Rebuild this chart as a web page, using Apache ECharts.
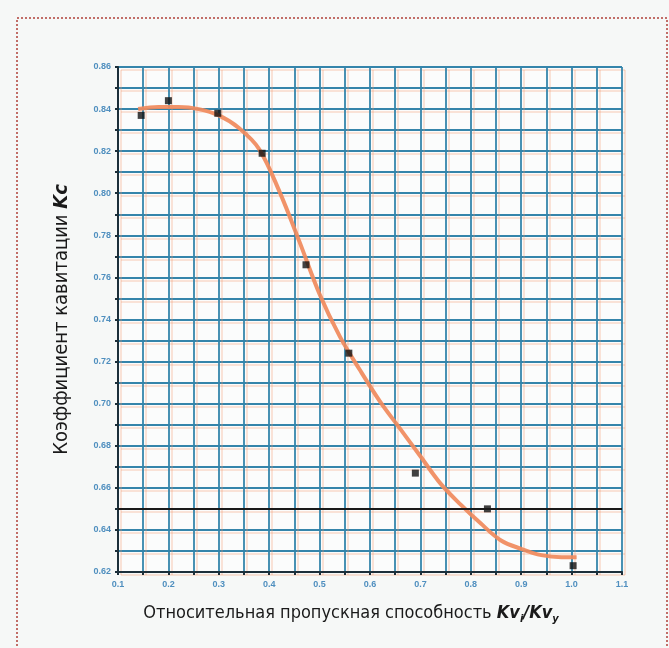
<!DOCTYPE html>
<html><head><meta charset="utf-8">
<script src="https://cdn.jsdelivr.net/npm/echarts@6/dist/echarts.min.js"></script>
<style>html,body{margin:0;padding:0;background:#f6f8f7}#c{width:669px;height:648px}</style>
</head><body><div id="c"></div>
<script>
// Measured points (relative capacity, cavitation coefficient)
const pointX = [0.146, 0.200, 0.298, 0.386, 0.473, 0.558, 0.690, 0.833, 1.003];
const pointY = [0.837, 0.844, 0.838, 0.819, 0.766, 0.724, 0.667, 0.650, 0.623];
// Fitted curve
const curveX = [0.14, 0.18, 0.22, 0.26, 0.30, 0.34, 0.38, 0.42, 0.46, 0.50, 0.54, 0.58, 0.62, 0.66, 0.70, 0.74, 0.78, 0.82, 0.86, 0.90, 0.94, 0.98, 1.01];
const curveY = [0.840, 0.841, 0.841, 0.840, 0.837, 0.831, 0.821, 0.801, 0.777, 0.752, 0.732, 0.716, 0.701, 0.688, 0.675, 0.662, 0.652, 0.643, 0.635, 0.631, 0.628, 0.627, 0.627];
const refLineY = [0.65];
const xTitle = 'Относительная пропускная способность ';
const yTitle = 'Коэффициент кавитации ';

const chart = echarts.init(document.getElementById('c'), null, {renderer: 'canvas'});
const FONT = '"Liberation Sans Narrow", "DejaVu Sans Condensed", "Liberation Sans", sans-serif';
const G = {left: 118, right: 47, top: 67, bottom: 76};
const G2 = {left: 121, right: 44, top: 70, bottom: 73};
const xFmt = v => (Math.round(v * 100) % 10 === 0 ? v.toFixed(1) : '');
const yFmt = v => (Math.round(v * 100) % 2 === 0 ? v.toFixed(2) : '');

chart.setOption({
  backgroundColor: '#f6f8f7',
  animation: false,
  graphic: [{
    type: 'rect', shape: {x: 17, y: 18, width: 650, height: 660},
    style: {fill: 'none', stroke: '#b0403a', lineWidth: 1.5, lineDash: [2, 2]}, z: -1
  }, {
    type: 'rect', shape: {x: 118, y: 67, width: 504, height: 505},
    style: {fill: '#fbfcfc'}, z: -1
  }],
  grid: [Object.assign({}, G2), Object.assign({}, G)],
  xAxis: [{
    gridIndex: 0, type: 'value', min: 0.1, max: 1.1, interval: 0.05,
    axisLine: {show: false}, axisTick: {show: false}, axisLabel: {show: false},
    splitLine: {show: true, lineStyle: {color: 'rgba(240,150,110,0.35)', width: 1.5}}
  }, {
    gridIndex: 1, type: 'value', min: 0.1, max: 1.1, interval: 0.05,
    nameLocation: 'middle', nameGap: 30,
    name: '{a|' + xTitle + '}{b|Kv}{s|i}{b|/Kv}{s|y}',
    nameTextStyle: {
      padding: [0, 38, 0, 0],
      rich: {
        a: {fontFamily: FONT, fontSize: 18, color: '#1a1a1a'},
        b: {fontFamily: FONT, fontSize: 18, color: '#1a1a1a', fontWeight: 'bold', fontStyle: 'italic'},
        s: {fontFamily: FONT, fontSize: 11, color: '#1a1a1a', fontWeight: 'bold', fontStyle: 'italic', padding: [12, 0, 0, 0]}
      }
    },
    axisLine: {show: true, onZero: false, lineStyle: {color: '#1c2f3a', width: 2}},
    axisTick: {show: true, length: 3, lineStyle: {color: '#1c2f3a', width: 2}},
    axisLabel: {formatter: xFmt, color: '#4f8fbf', fontSize: 9, fontWeight: 'bold', margin: 8, fontFamily: 'Liberation Sans'},
    splitLine: {show: true, lineStyle: {color: '#3585ab', width: 1.8}}
  }],
  yAxis: [{
    gridIndex: 0, type: 'value', min: 0.62, max: 0.86, interval: 0.01,
    axisLine: {show: false}, axisTick: {show: false}, axisLabel: {show: false},
    splitLine: {show: true, lineStyle: {color: 'rgba(240,150,110,0.35)', width: 1.5}}
  }, {
    gridIndex: 1, type: 'value', min: 0.62, max: 0.86, interval: 0.01,
    nameLocation: 'middle', nameGap: 46,
    name: '{a|' + yTitle + '}{b|Kc}',
    nameTextStyle: {
      rich: {
        a: {fontFamily: FONT, fontSize: 20, color: '#1a1a1a'},
        b: {fontFamily: FONT, fontSize: 20, color: '#1a1a1a', fontWeight: 'bold', fontStyle: 'italic'}
      }
    },
    axisLine: {show: true, onZero: false, lineStyle: {color: '#1c2f3a', width: 2}},
    axisTick: {show: true, length: 3, lineStyle: {color: '#1c2f3a', width: 2}},
    axisLabel: {formatter: yFmt, color: '#4f8fbf', fontSize: 9, fontWeight: 'bold', margin: 7, fontFamily: 'Liberation Sans'},
    splitLine: {show: true, lineStyle: {color: '#3585ab', width: 1.8}}
  }],
  series: [{
    type: 'line', xAxisIndex: 1, yAxisIndex: 1,
    data: curveX.map((x, i) => [x, curveY[i]]),
    smooth: 0.35, showSymbol: false, symbol: 'none',
    lineStyle: {color: '#f08a5c', width: 4, opacity: 0.92},
    markLine: {
      silent: true, symbol: 'none', label: {show: false},
      lineStyle: {color: '#1a1a1a', width: 2, type: 'solid'},
      data: refLineY.map(v => ({yAxis: v}))
    },
    z: 3
  }, {
    type: 'scatter', xAxisIndex: 1, yAxisIndex: 1,
    data: pointX.map((x, i) => [x, pointY[i]]),
    symbol: 'rect', symbolSize: 7,
    itemStyle: {color: '#111'}, z: 4
  }]
});
</script>
</body></html>
